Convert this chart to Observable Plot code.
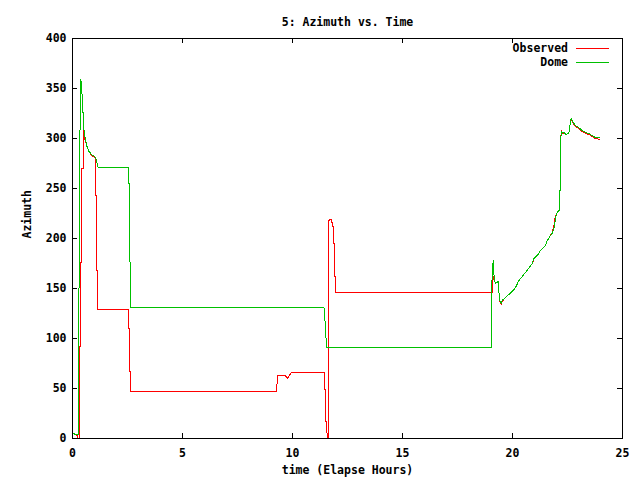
<!DOCTYPE html>
<html>
<head>
<meta charset="utf-8">
<script src="https://cdn.jsdelivr.net/npm/d3@7"></script>
<script src="https://cdn.jsdelivr.net/npm/@observablehq/plot@0.6"></script>
<style>
  html, body { margin: 0; padding: 0; background: #fff; }
</style>
</head>
<body>
<div id="chart"></div>
<script>
const title = "5: Azimuth vs. Time";
const xLabel = "time (Elapse Hours)";
const yLabel = "Azimuth";
const seriesNames = ["Observed", "Dome"];
const seriesColors = ["#ff0000", "#00c000"];
const xTicks = [0, 5, 10, 15, 20, 25];
const yTicks = [0, 50, 100, 150, 200, 250, 300, 350, 400];

// Observed (red)
const obsT = [0, 0.12, 0.22, 0.24, 0.31, 0.32, 0.36, 0.37, 0.42, 0.43, 0.48, 0.49, 0.55, 0.62, 0.67, 0.75, 0.83, 0.92, 1.0, 1.04,
  1.05, 1.08, 1.09, 1.13, 1.14, 2.56, 2.57, 2.59, 2.6, 2.64, 2.65, 9.29, 9.3, 9.33, 9.68, 9.76, 9.95, 11.45, 11.46, 11.5,
  11.51, 11.54, 11.55, 11.58, 11.6, 11.63, 11.66, 11.77, 11.78, 11.84, 11.85, 11.92, 11.93, 11.95, 11.96, 19.07, 19.08, 19.1, 19.12, 19.18,
  19.22, 19.29, 19.35, 19.4, 19.44, 19.49, 19.53, 19.68, 19.99, 20.14, 20.29, 20.59, 20.9, 20.97, 21.2, 21.27, 21.5, 21.58, 21.73, 21.8,
  21.88, 21.92, 21.95, 22.03, 22.15, 22.17, 22.21, 22.26, 22.33, 22.44, 22.53, 22.59, 22.62, 22.67, 22.76, 22.86, 23.01, 23.17, 23.32, 23.47,
  23.62, 23.77, 23.97];
const obsV = [6, 4, 3, 0, 0, 92, 92, 176, 176, 270, 270, 314, 300, 295, 291, 287, 284, 282, 281, 280,
  243, 243, 168, 168, 129, 129, 108, 108, 67, 67, 47, 47, 59, 63, 63, 60, 66, 66, 49, 49,
  17, 17, 7, 5, 0, 0, 219, 219, 216, 216, 195, 195, 162, 162, 146, 146, 155, 170, 160, 158,
  155, 156, 157, 141, 136, 134, 137, 141, 147, 151, 158, 166, 175, 179, 185, 188, 193, 198, 203, 206,
  212, 220, 222, 226, 229, 268, 308, 305, 305, 304, 305, 307, 315, 319, 315, 312, 310, 307, 305, 304,
  302, 300, 299];

// Dome (green)
const domeT = [0, 0.12, 0.25, 0.28, 0.29, 0.31, 0.36, 0.38, 0.42, 0.47, 0.53, 0.58, 0.62, 0.67, 0.75, 0.83, 0.92, 1.01, 1.08, 1.17,
  2.56, 2.58, 2.62, 2.65, 11.43, 11.47, 11.52, 11.56, 19.05, 19.06, 19.12, 19.15, 19.18, 19.22, 19.29, 19.35, 19.4, 19.44, 19.49, 19.53,
  19.68, 19.99, 20.14, 20.29, 20.59, 20.9, 20.97, 21.2, 21.27, 21.5, 21.58, 21.73, 21.8, 21.88, 21.92, 21.95, 22.03, 22.15, 22.17, 22.21,
  22.26, 22.33, 22.44, 22.53, 22.59, 22.62, 22.67, 22.76, 22.86, 23.01, 23.17, 23.32, 23.47, 23.62, 23.77, 23.97];
const domeV = [6, 4, 3.7, 3.7, 92, 270, 330, 359, 349, 329, 306, 300, 296, 291, 287, 285, 283, 282, 279, 271,
  271, 236, 166, 131, 131, 121, 101, 91, 91, 155, 178, 165, 160, 155, 156, 157, 141, 137, 135, 138,
  141, 147, 151, 158, 166, 175, 180, 185, 188, 193, 198, 203, 205, 210, 214, 220, 226, 229, 268, 307,
  306, 306, 304, 305, 307, 315, 320, 316, 313, 311, 308, 306, 305, 303, 301, 301];

const data = [
  ...obsT.map((t, i) => ({series: seriesNames[0], t, v: obsV[i]})),
  ...domeT.map((t, i) => ({series: seriesNames[1], t, v: domeV[i]}))
];

const font = "'DejaVu Sans Mono', 'Liberation Mono', monospace";
const tick = 5; // px

const legend = (index, scales, values, dims) => {
  const g = d3.create("svg:g")
    .attr("font-family", font).attr("font-size", "11.5px").attr("font-weight", "bold");
  const xr = dims.width - dims.marginRight;
  seriesNames.forEach((name, i) => {
    const y = dims.marginTop + 10 + i * 14;
    g.append("text").attr("x", xr - 54).attr("y", y).attr("dy", "0.35em")
      .attr("text-anchor", "end").attr("fill", "black").text(name);
    g.append("line").attr("x1", xr - 46).attr("x2", xr - 13)
      .attr("y1", y + 0.5).attr("y2", y + 0.5)
      .attr("stroke", seriesColors[i]).attr("stroke-width", 1)
      .attr("shape-rendering", "crispEdges");
  });
  return g.node();
};

const ticksMark = (index, scales, values, dims) => {
  const g = d3.create("svg:g").attr("stroke", "black").attr("shape-rendering", "crispEdges");
  const x0 = dims.marginLeft, x1 = dims.width - dims.marginRight;
  const y0 = dims.marginTop, y1 = dims.height - dims.marginBottom;
  for (const t of xTicks) {
    const x = Math.round(scales.x(t)) + 0.5;
    g.append("line").attr("x1", x).attr("x2", x).attr("y1", y1).attr("y2", y1 - tick);
    g.append("line").attr("x1", x).attr("x2", x).attr("y1", y0).attr("y2", y0 + tick);
  }
  for (const v of yTicks) {
    const y = Math.round(scales.y(v)) + 0.5;
    g.append("line").attr("x1", x0).attr("x2", x0 + tick).attr("y1", y).attr("y2", y);
    g.append("line").attr("x1", x1).attr("x2", x1 - tick).attr("y1", y).attr("y2", y);
  }
  return g.node();
};

const chart = Plot.plot({
  width: 640,
  height: 480,
  marginLeft: 72,
  marginRight: 18,
  marginTop: 38,
  marginBottom: 42,
  style: {fontFamily: font, fontSize: "11.5px", fontWeight: "bold", background: "white", color: "black"},
  x: {domain: [0, 25]},
  y: {domain: [0, 400]},
  color: {domain: seriesNames, range: seriesColors},
  marks: [
    Plot.axisX({ticks: xTicks, tickSize: 0, tickPadding: 10, label: null, tickFormat: d => String(d)}),
    Plot.axisY({ticks: yTicks, tickSize: 0, tickPadding: 6, label: null, tickFormat: d => String(d)}),
    Plot.line(data, {x: "t", y: "v", z: "series", stroke: "series", strokeWidth: 1, curve: "linear", shapeRendering: "crispEdges"}),
    Plot.frame({stroke: "black", strokeWidth: 1, shapeRendering: "crispEdges"}),
    ticksMark,
    legend,
    Plot.text([title], {frameAnchor: "top", dy: -21, text: d => d, fill: "black"}),
    Plot.text([xLabel], {frameAnchor: "bottom", dy: 35, text: d => d, fill: "black"}),
    Plot.text([yLabel], {frameAnchor: "left", dx: -45, rotate: -90, text: d => d, fill: "black"})
  ]
});
document.getElementById("chart").appendChild(chart);
</script>
</body>
</html>
